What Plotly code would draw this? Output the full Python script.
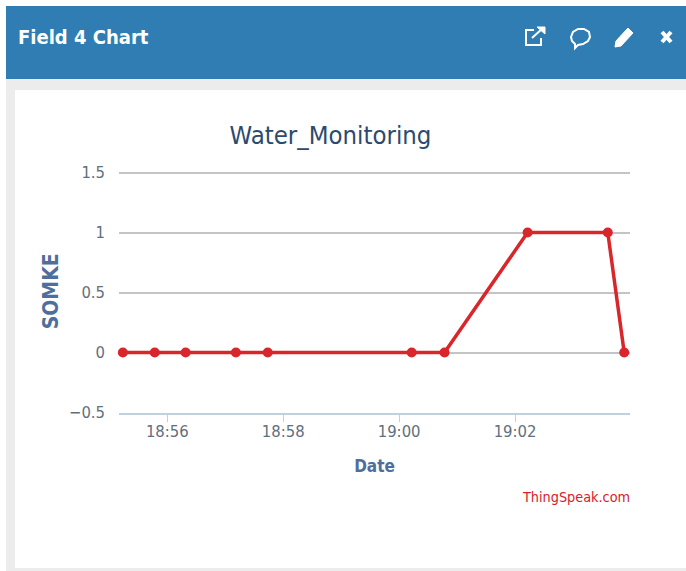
import plotly.graph_objects as go

W, H = 686, 571
FONT = "DejaVu Sans Condensed"

times = ["2018-01-01 18:55:14", "2018-01-01 18:55:47", "2018-01-01 18:56:19",
         "2018-01-01 18:57:11", "2018-01-01 18:57:44", "2018-01-01 19:00:13",
         "2018-01-01 19:00:47", "2018-01-01 19:02:13", "2018-01-01 19:03:36",
         "2018-01-01 19:03:53"]
smoke = [0, 0, 0, 0, 0, 0, 0, 1, 1, 0]
x_range = ["2018-01-01 18:55:10", "2018-01-01 19:03:59"]
y_range = [-0.5, 1.52]

def px(x): return x / W
def py(y): return 1 - y / H

def rect(x0, y0, x1, y1, color):
    return dict(type="rect", xref="paper", yref="paper", layer="below",
                x0=px(x0), x1=px(x1), y0=py(y0), y1=py(y1),
                fillcolor=color, line=dict(width=0))

def path(points, closed=False, fill=None, width=2):
    d = "M" + " L".join(f"{px(a):.5f},{py(b):.5f}" for a, b in points) + (" Z" if closed else "")
    return dict(type="path", xref="paper", yref="paper", path=d, layer="above",
                line=dict(color="white", width=width),
                fillcolor=fill if fill else "rgba(0,0,0,0)")

bubble = [(571, 37), (573, 32), (578, 29), (584, 29), (589, 32), (590, 37), (588, 41),
          (583, 44), (578, 45), (575, 48), (575, 44), (572, 41)]
shapes = [
    rect(6, 6, W, 79, "#2f7db3"),
    rect(6, 79, W, 571, "#ececec"),
    rect(15, 90, W, 568, "#ffffff"),
    path([(534, 30), (526, 30), (526, 45), (541, 45), (541, 38)]),
    path([(532, 38), (543, 28)]),
    path([(537, 27), (545, 27), (545, 34)], closed=True, fill="white", width=1),
    path(bubble, closed=True),
    path([(628, 28), (633, 33), (621, 46), (615, 47), (616, 41)], closed=True, fill="white", width=1),
    path([(662, 32), (671, 42)], width=4),
    path([(671, 32), (662, 42)], width=4),
]

annotations = [
    dict(text="<b>Field 4 Chart</b>", x=px(16), y=py(37), xanchor="left", yanchor="middle",
         font=dict(family=FONT, size=20, color="white")),
    dict(text="ThingSpeak.com", x=px(632), y=py(497), xanchor="right", yanchor="middle",
         font=dict(family=FONT, size=14.3, color="#d8202a")),
]
for a in annotations:
    a.update(xref="paper", yref="paper", showarrow=False)

fig = go.Figure(go.Scatter(
    x=times, y=smoke, mode="lines+markers",
    line=dict(color="#d9262a", width=3.5),
    marker=dict(color="#d9262a", size=10),
    cliponaxis=False,
    hoverinfo="x+y",
))

fig.update_layout(
    width=W, height=H,
    margin=dict(l=0, r=0, t=0, b=0),
    paper_bgcolor="#ffffff", plot_bgcolor="rgba(0,0,0,0)",
    showlegend=False,
    shapes=shapes,
    annotations=annotations,
    title=dict(text="Water_Monitoring", x=330.5 / W, xanchor="center", y=py(135), yanchor="middle",
               font=dict(family=FONT, size=25.5, color="#2c4a6e")),
    xaxis=dict(
        type="date", range=x_range, domain=[px(119), px(630)], anchor="y", automargin=False,
        tickformat="%H:%M", dtick=120000, tick0="2018-01-01 18:56:00",
        showgrid=False, showline=True, linecolor="#c0d0e0", linewidth=2,
        ticks="outside", ticklen=7, tickcolor="#c0d0e0", tickwidth=1,
        ticklabelstandoff=-4,
        tickfont=dict(family=FONT, size=16.5, color="#5f6f80"),
        title=dict(text="<b>Date</b>", standoff=20,
                   font=dict(family=FONT, size=17, color="#4d6f9e")),
    ),
    yaxis=dict(
        range=y_range, domain=[py(412.5), py(170.1)], anchor="x", automargin=False,
        dtick=0.5, tick0=0, showgrid=True, gridcolor="#c4c4c4", gridwidth=2,
        zeroline=True, zerolinecolor="#c4c4c4", zerolinewidth=2, showline=False,
        ticks="", ticklabelstandoff=13,
        tickfont=dict(family=FONT, size=16.5, color="#5f6f80"),
        title=dict(text="<b>SOMKE</b>", standoff=4,
                   font=dict(family=FONT, size=21, color="#4d6f9e")),
    ),
)

fig.write_html("out.html", config=dict(displayModeBar=False),
               post_script="document.body.style.margin='0';document.body.style.overflow='hidden';")
